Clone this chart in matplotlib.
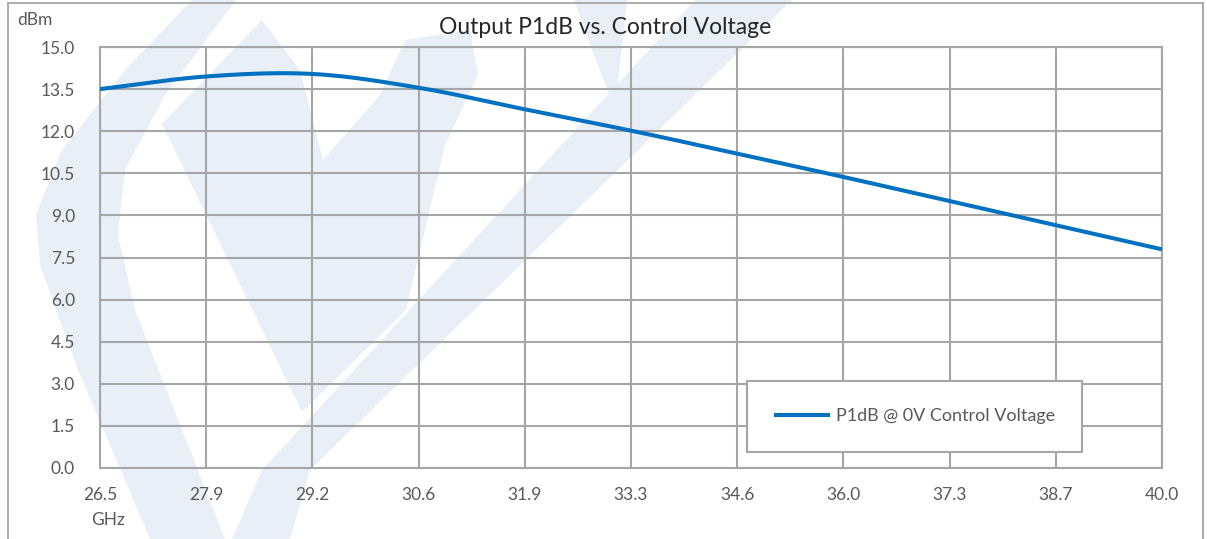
import matplotlib
matplotlib.use("Agg")
import matplotlib.pyplot as plt
import numpy as np
from matplotlib.patches import Polygon
from matplotlib.lines import Line2D

plt.rcParams['font.family'] = ['Lato', 'DejaVu Sans']

# data
freq = [26.5, 27.85, 29.2, 30.55, 31.9, 33.25, 34.6, 35.95, 37.3, 38.65, 40.0]
p1db = [13.50, 13.95, 14.04, 13.55, 12.78, 12.02, 11.20, 10.37, 9.51, 8.65, 7.79]
xtick_labels = ["26.5", "27.9", "29.2", "30.6", "31.9", "33.3", "34.6", "36.0", "37.3", "38.7", "40.0"]
yticks = [0.0, 1.5, 3.0, 4.5, 6.0, 7.5, 9.0, 10.5, 12.0, 13.5, 15.0]

W, H = 1207, 539
gris = "#A6A6A6"
texto = "#595959"
azul = "#0070C0"
marca = "#E8EFF7"


def suavizar(x, y, n=30):
    # catmull-rom, como la linea suavizada de excel
    x = np.asarray(x, float)
    y = np.asarray(y, float)
    px = np.concatenate([[2 * x[0] - x[1]], x, [2 * x[-1] - x[-2]]])
    py = np.concatenate([[2 * y[0] - y[1]], y, [2 * y[-1] - y[-2]]])
    xs, ys = [], []
    t = np.linspace(0, 1, n)
    for i in range(1, len(px) - 2):
        for p, out in ((px, xs), (py, ys)):
            p0, p1, p2, p3 = p[i - 1], p[i], p[i + 1], p[i + 2]
            out.extend(0.5 * ((2 * p1) + (-p0 + p2) * t
                              + (2 * p0 - 5 * p1 + 4 * p2 - p3) * t ** 2
                              + (-p0 + 3 * p1 - 3 * p2 + p3) * t ** 3))
    return xs, ys


def fig_xy(pts):
    return [(a / W, 1 - b / H) for a, b in pts]


fig = plt.figure(figsize=(W / 100, H / 100), dpi=100)
fig.patch.set_facecolor("white")

# marca de agua (logo de fondo), aproximada
formas = [
    [(192, 0), (236, 0), (165, 95), (125, 170), (118, 235), (135, 310), (225, 539),
     (150, 539), (78, 370), (40, 265), (36, 215), (62, 150), (125, 70)],
    [(162, 124), (262, 20), (300, 70), (323, 160), (380, 95), (405, 40), (470, 30),
     (478, 75), (445, 145), (406, 310), (302, 412)],
    [(695, 0), (792, 0), (310, 470), (290, 539), (232, 539), (262, 470)],
    [(574, 0), (627, 0), (615, 110), (594, 55)],
]
for f in formas:
    fig.patches.append(Polygon(fig_xy(f), closed=True, transform=fig.transFigure,
                               facecolor=marca, edgecolor="none", zorder=-2))

# marco exterior
for seg in [[(8, 600), (8, 3)], [(8, 3), (1203, 3)], [(1203, 3), (1203, 600)]]:
    (x0, y0), (x1, y1) = fig_xy(seg)
    fig.lines.append(Line2D([x0, x1], [y0, y1], transform=fig.transFigure,
                            color=gris, lw=1.3, zorder=-1))

ax = fig.add_axes([100 / W, 1 - 468 / H, (1162 - 100) / W, (468 - 47) / H])
ax.set_facecolor("none")

xs, ys = suavizar(freq, p1db)
ax.plot(xs, ys, color=azul, lw=2.9, solid_capstyle="butt",
        label="P1dB @ 0V Control Voltage", zorder=3)

ax.set_xlim(freq[0], freq[-1])
ax.set_ylim(yticks[0], yticks[-1])
ax.set_xticks(freq)
ax.set_xticklabels(xtick_labels)
ax.set_yticks(yticks)
ax.set_yticklabels(["%.1f" % v for v in yticks])
ax.tick_params(length=0, labelsize=12.5, labelcolor=texto)
ax.tick_params(axis="y", pad=18)
ax.tick_params(axis="x", pad=14)
ax.grid(True, color=gris, lw=1.5)
ax.set_axisbelow(True)
for s in ax.spines.values():
    s.set_color(gris)
    s.set_linewidth(1.5)

fig.text(35 / W, 1 - 20 / H, "dBm", ha="center", va="center", fontsize=12.5, color=texto)
fig.text(108 / W, 1 - 520 / H, "GHz", ha="center", va="center", fontsize=12.5, color=texto)
fig.text(605 / W, 1 - 28 / H, "Output P1dB vs. Control Voltage", ha="center", va="center",
         fontsize=16.5, color="#262626")

leg = ax.legend(loc="center", bbox_to_anchor=(738 / W, 1 - 453 / H, 353 / W, 73 / H),
                bbox_transform=fig.transFigure, fontsize=13, frameon=True,
                fancybox=False, borderpad=1.5, handlelength=3.1, handletextpad=0.3,
                labelcolor=texto)
leg.get_frame().set_edgecolor(gris)
leg.get_frame().set_linewidth(1.5)
leg.get_frame().set_alpha(1)

fig.savefig("out.png", dpi=100, facecolor="white")
